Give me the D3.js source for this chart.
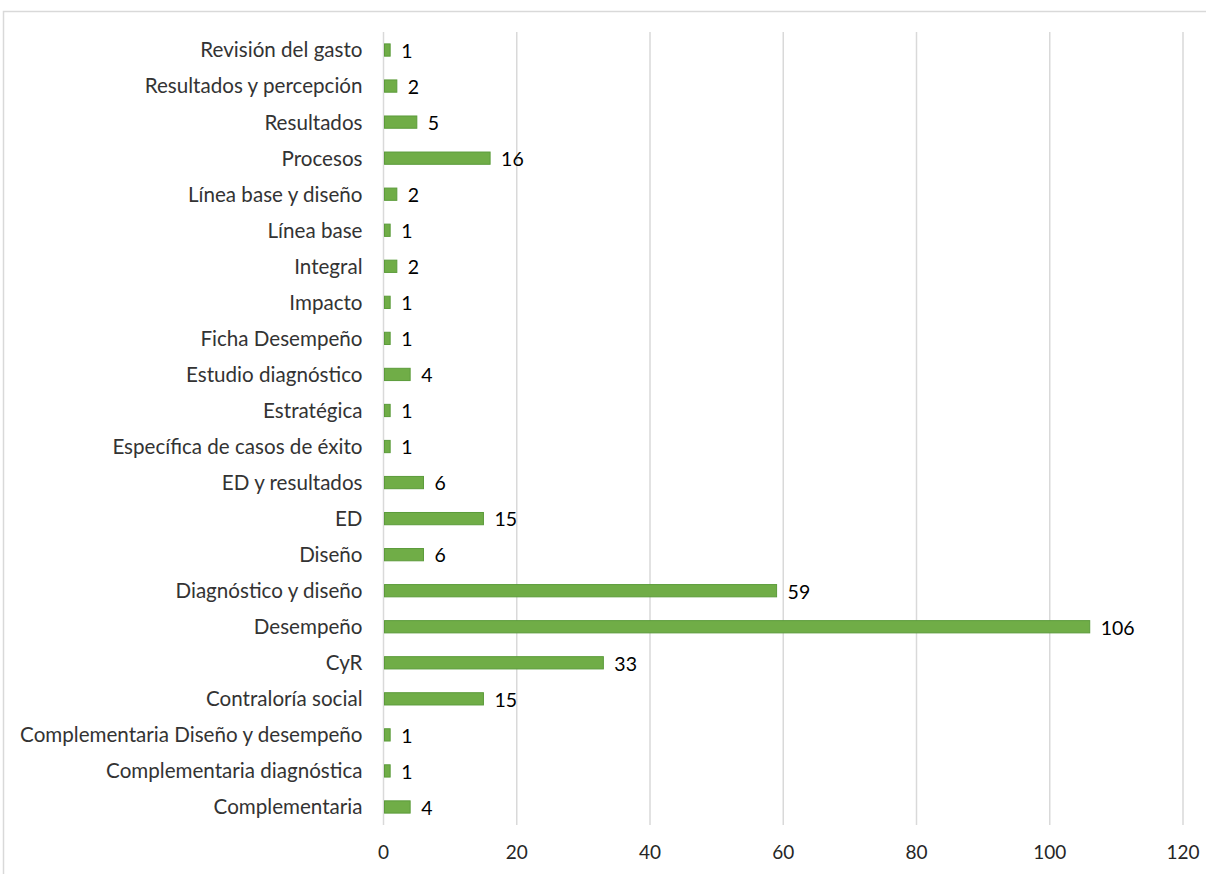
<!DOCTYPE html>
<html>
<head>
<meta charset="utf-8">
<script src="https://cdn.jsdelivr.net/npm/d3@7"></script>
<style>
  body { margin: 0; background: #fff; }
  svg { display: block; font-family: Lato, "Open Sans", sans-serif; }
</style>
</head>
<body>
<svg id="chart"></svg>
<script>
// categories top to bottom, as shown
var categories = [
  "Revisión del gasto", "Resultados y percepción", "Resultados", "Procesos",
  "Línea base y diseño", "Línea base", "Integral", "Impacto", "Ficha Desempeño",
  "Estudio diagnóstico", "Estratégica", "Específica de casos de éxito",
  "ED y resultados", "ED", "Diseño", "Diagnóstico y diseño", "Desempeño",
  "CyR", "Contraloría social", "Complementaria Diseño y desempeño",
  "Complementaria diagnóstica", "Complementaria"
];
var counts = [1, 2, 5, 16, 2, 1, 2, 1, 1, 4, 1, 1, 6, 15, 6, 59, 106, 33, 15, 1, 1, 4];
var xTicks = [0, 20, 40, 60, 80, 100, 120];

var width = 1206, height = 874;
var margin = { top: 32, right: 23, bottom: 49, left: 383.5 };
var innerW = width - margin.left - margin.right;
var innerH = height - margin.top - margin.bottom;

var svg = d3.select("#chart").attr("width", width).attr("height", height);

// outer chart border (cut by the page edge on right/bottom)
svg.append("rect")
  .attr("x", 3.5).attr("y", 11.5)
  .attr("width", 1220).attr("height", 900)
  .attr("fill", "none").attr("stroke", "#d9d9d9").attr("stroke-width", 1.5);

var g = svg.append("g")
  .attr("transform", "translate(" + margin.left + "," + margin.top + ")");

var x = d3.scaleLinear().domain([0, 120]).range([0, innerW]);
var y = d3.scaleBand().domain(categories).range([0, innerH]).paddingInner(0.66).paddingOuter(0.33);

// gridlines
g.selectAll(".grid")
  .data(xTicks)
  .enter()
  .append("line")
  .attr("class", "grid")
  .attr("x1", d => x(d)).attr("x2", d => x(d))
  .attr("y1", 0).attr("y2", innerH)
  .attr("stroke", "#d9d9d9").attr("stroke-width", 1.5);

// x tick labels
g.selectAll(".xtick")
  .data(xTicks)
  .enter()
  .append("text")
  .attr("class", "xtick")
  .attr("x", d => x(d))
  .attr("y", innerH + 34)
  .attr("text-anchor", "middle")
  .attr("font-size", "19px")
  .attr("fill", "#262626")
  .text(d => d);

// category labels
g.selectAll(".ylab")
  .data(categories)
  .enter()
  .append("text")
  .attr("class", "ylab")
  .attr("x", -21)
  .attr("y", d => y(d) + y.bandwidth() / 2)
  .attr("dy", "0.36em")
  .attr("text-anchor", "end")
  .attr("font-size", "20.6px")
  .attr("fill", "#333")
  .text(d => d);

// bars
g.selectAll(".bar")
  .data(counts)
  .enter()
  .append("rect")
  .attr("class", "bar")
  .attr("x", x(0) + 1)
  .attr("y", (d, i) => y(categories[i]))
  .attr("width", d => x(d) - x(0) - 1)
  .attr("height", y.bandwidth())
  .attr("fill", "#70ad47")
  .attr("stroke", "#5b9b3a")
  .attr("stroke-width", 1);

// value labels
g.selectAll(".val")
  .data(counts)
  .enter()
  .append("text")
  .attr("class", "val")
  .attr("x", d => x(d) + 11)
  .attr("y", (d, i) => y(categories[i]) + y.bandwidth() / 2)
  .attr("dy", "0.4em")
  .attr("font-size", "19.5px")
  .attr("fill", "#000")
  .text(d => d);
</script>
</body>
</html>
